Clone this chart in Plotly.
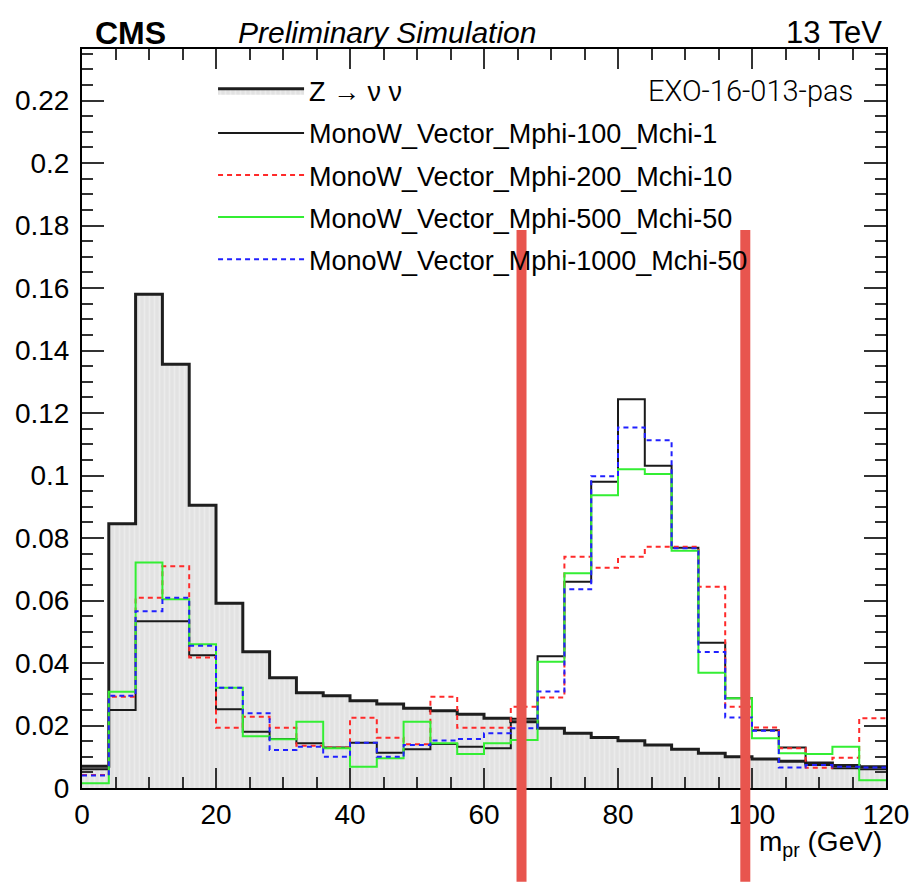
import plotly.graph_objects as go

# ---------------- data ----------------
bin_edges = [4 * i for i in range(31)]  # 0..120 GeV, 4 GeV bins

z_nunu = [0.0070, 0.0846, 0.1580, 0.1356, 0.0905, 0.0591, 0.0436, 0.0353, 0.0305, 0.0295,
          0.0279, 0.0269, 0.0255, 0.0247, 0.0236, 0.0223, 0.0212, 0.0191, 0.0175, 0.0162,
          0.0151, 0.0138, 0.0124, 0.0111, 0.0100, 0.0093, 0.0086, 0.0080, 0.0072, 0.0068]

mphi100 = [0.0060, 0.0250, 0.0534, 0.0534, 0.0425, 0.0252, 0.0180, 0.0157, 0.0143, 0.0130,
           0.0145, 0.0113, 0.0124, 0.0141, 0.0132, 0.0127, 0.0222, 0.0422, 0.0660, 0.0980,
           0.1244, 0.1031, 0.0769, 0.0465, 0.0287, 0.0185, 0.0130, 0.0074, 0.0063, 0.0060]

mphi200 = [0.0042, 0.0292, 0.0609, 0.0710, 0.0418, 0.0193, 0.0228, 0.0193, 0.0135, 0.0130,
           0.0225, 0.0161, 0.0140, 0.0292, 0.0193, 0.0193, 0.0260, 0.0290, 0.0740, 0.0705,
           0.0740, 0.0772, 0.0772, 0.0644, 0.0260, 0.0194, 0.0127, 0.0065, 0.0097, 0.0223]

mphi500 = [0.0015, 0.0308, 0.0722, 0.0604, 0.0460, 0.0321, 0.0166, 0.0156, 0.0212, 0.0127,
           0.0068, 0.0095, 0.0212, 0.0143, 0.0109, 0.0143, 0.0154, 0.0404, 0.0687, 0.0937,
           0.1020, 0.1005, 0.0759, 0.0369, 0.0287, 0.0159, 0.0111, 0.0109, 0.0132, 0.0025]

mphi1000 = [0.0040, 0.0295, 0.0566, 0.0609, 0.0455, 0.0321, 0.0239, 0.0122, 0.0132, 0.0100,
            0.0145, 0.0100, 0.0138, 0.0152, 0.0157, 0.0175, 0.0191, 0.0309, 0.0636, 0.0998,
            0.1154, 0.1113, 0.0767, 0.0435, 0.0226, 0.0183, 0.0066, 0.0074, 0.0068, 0.0066]

series_names = ["Z \u2192 \u03bd \u03bd",
                "MonoW_Vector_Mphi-100_Mchi-1",
                "MonoW_Vector_Mphi-200_Mchi-10",
                "MonoW_Vector_Mphi-500_Mchi-50",
                "MonoW_Vector_Mphi-1000_Mchi-50"]

x_ticks = [0, 20, 40, 60, 80, 100, 120]
y_ticks = [0, 0.02, 0.04, 0.06, 0.08, 0.1, 0.12, 0.14, 0.16, 0.18, 0.2, 0.22]
y_ticklabels = ["0", "0.02", "0.04", "0.06", "0.08", "0.1", "0.12", "0.14", "0.16", "0.18", "0.2", "0.22"]

highlight_x = [65.6, 99.0]  # hand-drawn red marker lines (GeV)

FONT = "Liberation Sans, Arial, Helvetica, sans-serif"


def step(vals):
    return bin_edges, list(vals) + [vals[-1]]


fig = go.Figure()

xs, ys = step(z_nunu)
fig.add_trace(go.Scatter(
    x=xs, y=ys, mode="lines", line=dict(shape="hv", color="#1e1e1e", width=3),
    fill="tozeroy", fillcolor="#e4e4e4",
    fillpattern=dict(shape="|", bgcolor="#e2e2e2", fgcolor="#f3f3f3", size=5, solidity=0.35),
    name=series_names[0], legendgroup="g0"))

styles = [
    (mphi100, dict(color="#1a1a1a", width=2)),
    (mphi200, dict(color="#ff2a2a", width=2, dash="5px,4px")),
    (mphi500, dict(color="#33ee33", width=2)),
    (mphi1000, dict(color="#2020ff", width=2, dash="5px,4px")),
]
for i, (vals, ln) in enumerate(styles):
    xs, ys = step(vals)
    ln = dict(ln)
    ln["shape"] = "hv"
    fig.add_trace(go.Scatter(x=xs, y=ys, mode="lines", line=ln,
                             name=series_names[i + 1], legendgroup=f"g{i+1}"))

# red hand-drawn highlight lines
for hx in highlight_x:
    fig.add_shape(type="line", xref="x", yref="paper", x0=hx, x1=hx, y0=0.755, y1=-0.127,
                  line=dict(color="#e8554e", width=10), layer="above")

axis_common = dict(showline=True, linecolor="black", linewidth=2, mirror="ticks",
                   ticks="inside", tickcolor="#333333", tickwidth=1.5,
                   showgrid=False, zeroline=False, automargin=False,
                   tickfont=dict(family=FONT, size=28, color="black"))

fig.update_xaxes(range=[0, 120], tickmode="array", tickvals=x_ticks,
                 ticktext=[str(v) for v in x_ticks], ticklen=20,
                 minor=dict(tickmode="linear", tick0=0, dtick=5, ticklen=11, ticks="inside",
                            tickcolor="#333333", tickwidth=1.5),
                 **axis_common)
fig.update_yaxes(range=[0, 0.2365], tickmode="array", tickvals=y_ticks,
                 ticktext=y_ticklabels, ticklen=22, ticklabelstandoff=5,
                 minor=dict(tickmode="linear", tick0=0, dtick=0.005, ticklen=11, ticks="inside",
                            tickcolor="#333333", tickwidth=1.5),
                 **axis_common)

fig.add_annotation(text="<b>CMS</b>", xref="paper", yref="paper", x=0.014, y=1.022,
                   xanchor="left", yanchor="middle", showarrow=False,
                   font=dict(family=FONT, size=32, color="black"))
fig.add_annotation(text="<i>Preliminary Simulation</i>", xref="paper", yref="paper", x=0.192, y=1.022,
                   xanchor="left", yanchor="middle", showarrow=False,
                   font=dict(family=FONT, size=30, color="black"))
fig.add_annotation(text="13 TeV", xref="paper", yref="paper", x=0.9975, y=1.022,
                   xanchor="right", yanchor="middle", showarrow=False,
                   font=dict(family=FONT, size=31, color="black"))
fig.add_annotation(text="EXO-16-013-pas", xref="paper", yref="paper", x=0.9614, y=0.943,
                   xanchor="right", yanchor="middle", showarrow=False,
                   font=dict(family="Roboto, " + FONT, size=29, color="black", weight=300))
fig.add_annotation(text="m<sub>pr</sub> (GeV)", xref="paper", yref="paper", x=0.9975, y=-0.075,
                   xanchor="right", yanchor="middle", showarrow=False,
                   font=dict(family=FONT, size=28, color="black"))

fig.update_layout(
    width=911, height=886,
    margin=dict(l=82, r=25, t=49, b=98, autoexpand=False),
    paper_bgcolor="white", plot_bgcolor="white",
    showlegend=True,
    legend=dict(x=0.163, y=0.976, xanchor="left", yanchor="top",
                bgcolor="rgba(0,0,0,0)", borderwidth=0,
                font=dict(family=FONT, size=27, color="black"),
                itemwidth=86, traceorder="grouped", tracegroupgap=4),
)

fig.write_html("out.html")
